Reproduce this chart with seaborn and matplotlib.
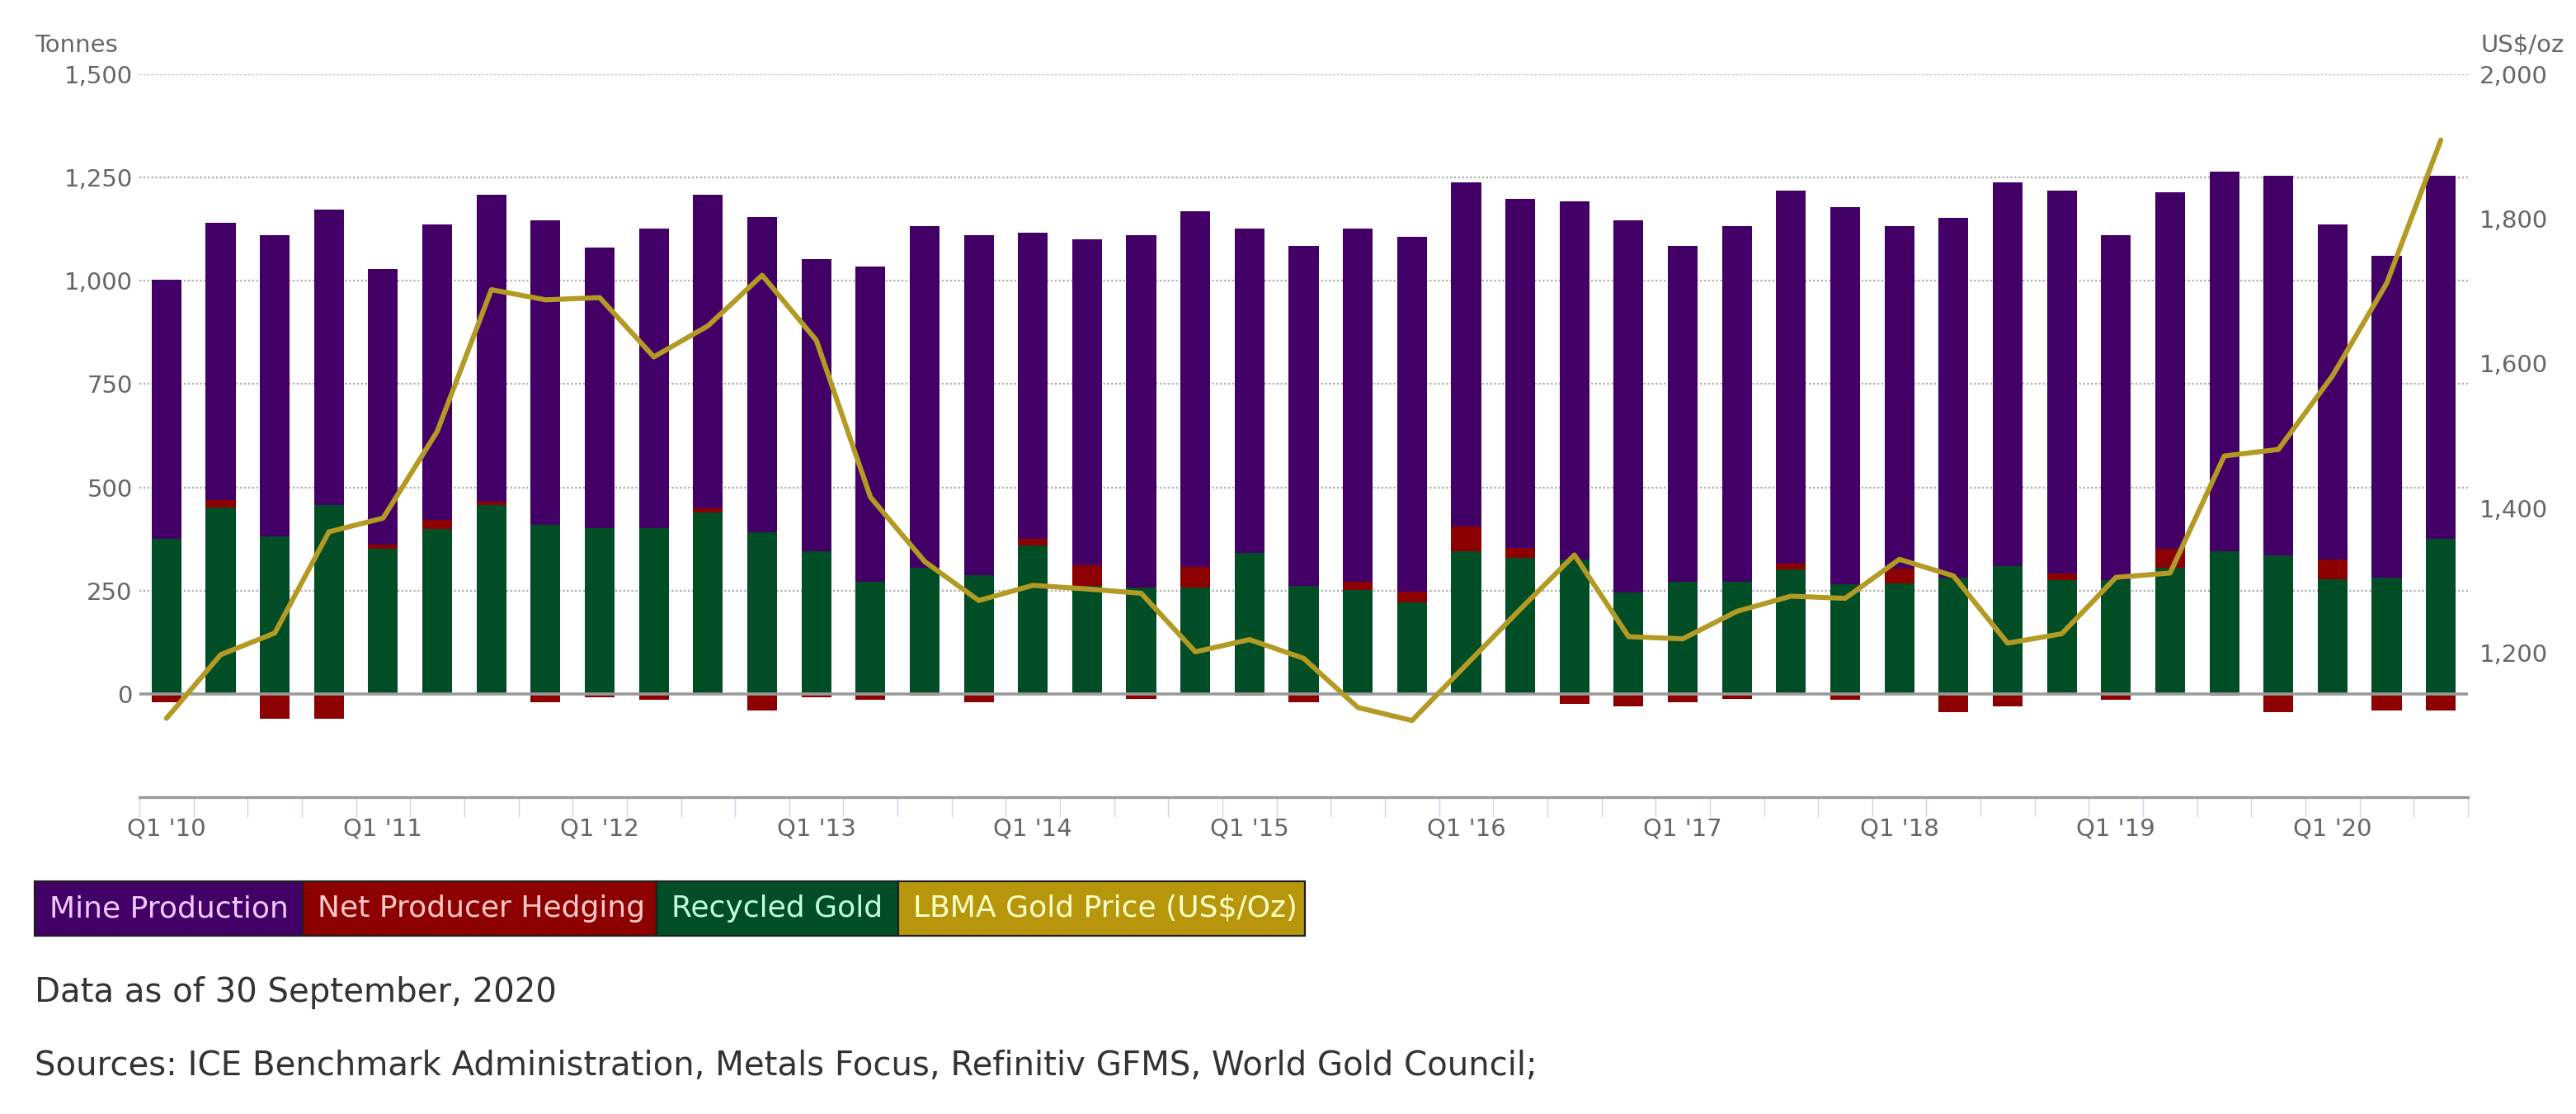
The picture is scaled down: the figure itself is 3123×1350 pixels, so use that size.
import numpy as np
import pandas as pd
import matplotlib
matplotlib.use("Agg")
import matplotlib.pyplot as plt
from matplotlib.patches import Rectangle
from matplotlib.ticker import FixedLocator, FuncFormatter
import seaborn as sns

# quarterly gold supply (tonnes) and LBMA price, Q1 2010 - Q3 2020
quarters = [f"Q{q} '{y:02d}" for y in range(10, 21) for q in range(1, 5)][:43]

recycled = [375, 452, 382, 457, 352, 399, 457, 409, 402, 402, 439, 392, 345,
            271, 305, 288, 359, 262, 258, 258, 342, 262, 252, 222, 345, 329,
            325, 245, 271, 271, 301, 265, 268, 282, 309, 275, 275, 305, 345,
            335, 278, 282, 375]
hedging = [-20, 18, -60, -60, 10, 22, 8, -20, -8, -15, 10, -40, -8,
           -15, -5, -20, 16, 50, -12, 50, -5, -20, 20, 25, 60, 25,
           -25, -30, -20, -12, 15, -15, 35, -45, -30, 16, -15, 47, -5,
           -45, 47, -40, -40]
mine = [627, 671, 728, 715, 666, 715, 743, 737, 678, 724, 759, 763, 708,
        763, 827, 822, 741, 788, 852, 860, 784, 822, 854, 859, 833, 844,
        867, 901, 813, 861, 902, 913, 829, 870, 929, 927, 835, 862, 919,
        919, 811, 778, 879]
price = [1109, 1197, 1227, 1367, 1386, 1506, 1702, 1688, 1691, 1609, 1652,
         1722, 1632, 1415, 1326, 1272, 1293, 1288, 1282, 1201, 1218, 1192,
         1124, 1106, 1183, 1260, 1335, 1222, 1219, 1257, 1278, 1275, 1329,
         1306, 1213, 1226, 1304, 1310, 1472, 1481, 1583, 1711, 1909]

left_ticks = [0, 250, 500, 750, 1000, 1250, 1500]
right_ticks = [1200, 1400, 1600, 1800, 2000]

C_MINE = "#420066"
C_HEDGE = "#8c0000"
C_REC = "#004d26"
C_GOLD = "#b39a24"

sns.set_style("white")
plt.rcParams["font.family"] = ["DejaVu Sans"]

W, H = 3123, 1350
fig = plt.figure(figsize=(W / 200, H / 200), dpi=200)
ax = fig.add_axes([169 / W, 1 - 966 / H, (2992 - 169) / W, (966 - 90) / H])

df = pd.DataFrame({"quarter": quarters, "mine": mine,
                   "hedging": hedging, "recycled": recycled, "price": price})
rec = df["recycled"].to_numpy()
hed = df["hedging"].to_numpy()
pos_hed = np.clip(hed, 0, None)

bw = 0.55
sns.barplot(data=df, x="quarter", y="recycled", color=C_REC, saturation=1,
            width=bw, errorbar=None, ax=ax, linewidth=0)
sns.barplot(data=df, x="quarter", y="hedging", color=C_HEDGE, saturation=1,
            width=bw, errorbar=None, ax=ax, linewidth=0,
            bottom=np.where(hed > 0, rec, 0))
sns.barplot(data=df, x="quarter", y="mine", color=C_MINE, saturation=1,
            width=bw, errorbar=None, ax=ax, linewidth=0,
            bottom=rec + pos_hed)

ax.set_ylim(-250, 1500)
ax.set_xlim(-0.5, len(quarters) - 0.5)
ax.set_yticks(left_ticks)
ax.yaxis.set_major_formatter(FuncFormatter(lambda v, p: f"{v:,.0f}"))
ax.grid(axis="y", color="#adadad", linestyle=(0, (1, 1.2)), linewidth=0.8)
ax.set_axisbelow(True)
ax.axhline(0, color="#9a9a9a", lw=1.3, zorder=1.5)
ax.set_xlabel("")
ax.set_ylabel("")

idx = np.arange(0, len(quarters), 4)
ax.set_xticks(idx)
ax.set_xticklabels([quarters[i] for i in idx])
ax.xaxis.set_minor_locator(FixedLocator(np.arange(-0.5, len(quarters), 1)))
ax.tick_params(axis="x", which="major", length=0, pad=9, labelsize=10.5,
               labelcolor="#666666")
ax.tick_params(axis="x", which="minor", length=8.5, width=0.5,
               color="#ccd6eb", bottom=True)
ax.tick_params(axis="y", length=0, pad=3, labelsize=10.5, labelcolor="#666666")
for s in ["top", "left", "right"]:
    ax.spines[s].set_visible(False)
ax.spines["bottom"].set_color("#9a9a9a")
ax.spines["bottom"].set_linewidth(1.2)

ax2 = ax.twinx()
sns.lineplot(x=np.arange(len(price)), y=df["price"], ax=ax2, color=C_GOLD,
             lw=2.2)
ax2.set_ylim(1000, 2000)
ax2.set_yticks(right_ticks)
ax2.yaxis.set_major_formatter(FuncFormatter(lambda v, p: f"{v:,.0f}"))
ax2.tick_params(axis="y", length=0, pad=5, labelsize=10.5, labelcolor="#666666")
ax2.set_ylabel("")
for s in ax2.spines.values():
    s.set_visible(False)

fig.text(42 / W, 1 - 55 / H, "Tonnes", fontsize=10.5, color="#666666",
         ha="left", va="center")
fig.text(3007 / W, 1 - 55 / H, "US$/oz", fontsize=10.5, color="#666666",
         ha="left", va="center")

# legend strip
legend_items = [("Mine Production", C_MINE, "#f2c9ff", 42, 367),
                ("Net Producer Hedging", C_HEDGE, "#ffc9c9", 367, 796),
                ("Recycled Gold", C_REC, "#c4ffe0", 796, 1089),
                ("LBMA Gold Price (US$/Oz)", "#b8960c", "#ffffc8", 1089, 1582)]
y0, y1 = 1068, 1134
for label, bg, fg, x0, x1 in legend_items:
    fig.patches.append(Rectangle((x0 / W, 1 - y1 / H), (x1 - x0) / W,
                                 (y1 - y0) / H, transform=fig.transFigure,
                                 facecolor=bg, edgecolor="#1e1e1e", lw=0.8))
    fig.text((x0 + 18) / W, 1 - 1101 / H, label, fontsize=13, color=fg,
             ha="left", va="center")

fig.text(42 / W, 1 - 1203 / H, "Data as of 30 September, 2020", fontsize=14.5,
         color="#333333", ha="left", va="center")
fig.text(42 / W, 1 - 1292 / H,
         "Sources: ICE Benchmark Administration, Metals Focus, Refinitiv GFMS, World Gold Council;",
         fontsize=14.5, color="#333333", ha="left", va="center")

fig.savefig("out.png", dpi=200)
